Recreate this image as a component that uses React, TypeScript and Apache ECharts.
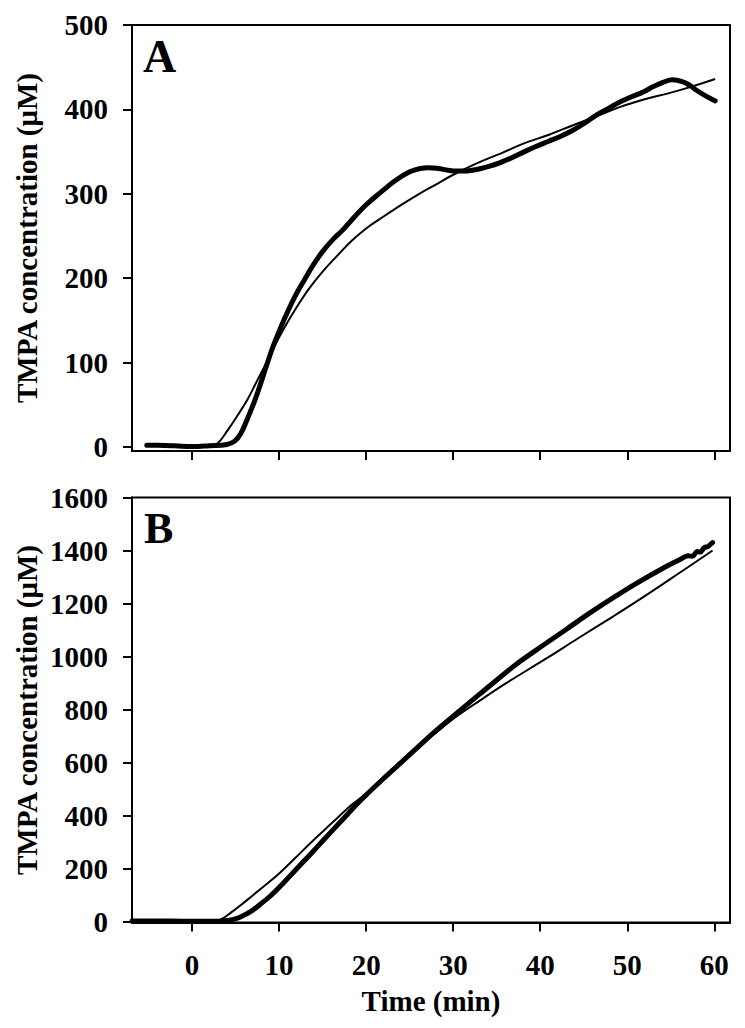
import React, { useEffect, useRef } from "react";
import * as echarts from "echarts";

// Panel A – measured data (thick) and fitted curve (thin)
const timeA_data = [-5.2, -4, -2, 0, 2, 4, 4.9, 5.6, 6.3, 7.2, 8, 8.7, 9.3, 10, 10.7, 11.8, 12.9, 14, 15.1, 16.2, 17.3, 18.6, 20, 21.7, 23.4, 25, 26.2, 27.2, 28.3, 29.4, 30.4, 31.3, 32.2, 33.2, 34.3, 35.4, 36.8, 38.2, 39.5, 40.9, 42.3, 43.7, 45, 46.4, 47.8, 49.2, 50.5, 51.9, 53, 54.1, 55.2, 56.3, 57.1, 57.9, 59, 60.1];
const concA_data = [2, 2, 1.5, 0.5, 1.5, 3, 7, 16, 32, 55, 79, 101, 119, 137, 154, 178, 198, 217, 233, 246, 257, 272, 287, 302, 316, 326, 330, 331, 330, 328, 327, 327, 328, 330, 333, 337, 343, 350, 356, 362, 368, 375, 383, 393, 401, 409, 415, 421, 427, 432, 435, 433, 429, 423, 416, 410];
const timeA_fit = [0, 2, 3, 4.1, 5.2, 6.3, 7.4, 8.5, 9.6, 10.7, 11.8, 13.4, 15.1, 16.8, 18.4, 20, 21.7, 23.9, 26.1, 28, 29.9, 32.7, 35.5, 38.2, 41, 43.7, 46.5, 49.2, 52, 54.7, 57.4, 60.1];
const concA_fit = [0, 0, 5, 20, 37, 55, 77, 99, 122, 143, 162, 187, 209, 228, 245, 259, 271, 286, 300, 311, 322, 336, 348, 360, 370, 381, 392, 403, 412, 419, 427, 436];

// Panel B – measured data (thick) and fitted curve (thin)
const timeB_data = [-6.9, -4, -1, 1, 2.5, 3.6, 4.5, 5.5, 6.9, 8, 9, 10.5, 12, 13.5, 15.1, 17, 18.9, 20, 22, 24, 26, 27.7, 30, 33.1, 35.5, 37.7, 40, 43.1, 45.5, 48.4, 51, 54.2, 56, 57, 57.5, 58, 58.4, 58.8, 59.3, 59.8];
const concB_data = [3, 3, 2, 2, 2, 3, 7, 17, 42, 70, 97, 146, 199, 251, 308, 375, 442, 478, 540, 600, 660, 711, 775, 860, 925, 982, 1035, 1105, 1160, 1222, 1275, 1335, 1365, 1380, 1378, 1396, 1394, 1410, 1416, 1430];
const timeB_fit = [2.4, 3.5, 4.5, 5.5, 7, 8.5, 10.1, 12, 13.7, 16, 18.2, 19.5, 22, 24, 26, 28, 30, 33.1, 36, 40.8, 44.4, 48.4, 52, 56.1, 59.8];
const concB_fit = [0, 12, 35, 60, 100, 140, 185, 245, 300, 370, 437, 470, 540, 600, 660, 713, 765, 835, 898, 995, 1070, 1152, 1228, 1318, 1400];

const xTicks = [0, 10, 20, 30, 40, 50, 60];
const yTicksA = [0, 100, 200, 300, 400, 500];
const yTicksB = [0, 200, 400, 600, 800, 1000, 1200, 1400, 1600];

const zip = (xs: number[], ys: number[]) => xs.map((x, i) => [x, ys[i]]);

const FONT = "'Liberation Serif', 'Times New Roman', serif";

export default function App() {
  const ref = useRef<HTMLDivElement>(null);
  useEffect(() => {
    if (!ref.current) return;
    const chart = echarts.init(ref.current, undefined, { renderer: "svg" });
    const axisLine = { show: true, onZero: false, lineStyle: { color: "#000", width: 2 } };
    const tick = { show: true, inside: false, length: 9, lineStyle: { color: "#000", width: 2 } };
    const label = { fontFamily: FONT, fontWeight: "bold" as const, fontSize: 29, color: "#000", formatter: (v: number) => String(v) };
    const xAxisBase = (gridIndex: number, showLabels: boolean) => ({
      type: "value" as const,
      gridIndex,
      min: -6.9,
      max: 61.8,
      axisLine,
      axisTick: { ...tick, customValues: xTicks },
      axisLabel: { ...label, show: showLabels, margin: 28, customValues: xTicks },
      splitLine: { show: false },
    });
    const yAxisBase = (gridIndex: number, min: number, max: number, ticks: number[]) => ({
      type: "value" as const,
      gridIndex,
      min,
      max,
      axisLine,
      axisTick: { ...tick, customValues: ticks },
      axisLabel: { ...label, margin: 24, customValues: ticks },
      splitLine: { show: false },
    });
    const thick = { color: "#000", width: 5, cap: "round" as const, join: "round" as const };
    const thin = { color: "#000", width: 2 };
    chart.setOption({
      animation: false,
      backgroundColor: "#fff",
      grid: [
        { left: 132, top: 25, width: 598, height: 426, show: true, borderColor: "#000", borderWidth: 2, backgroundColor: "transparent" },
        { left: 132, top: 497.5, width: 598, height: 425, show: true, borderColor: "#000", borderWidth: 2, backgroundColor: "transparent" },
      ],
      xAxis: [xAxisBase(0, false), xAxisBase(1, true)],
      yAxis: [yAxisBase(0, -4.7, 500, yTicksA), yAxisBase(1, -3, 1600, yTicksB)],
      series: [
        { type: "line", xAxisIndex: 0, yAxisIndex: 0, data: zip(timeA_data, concA_data), showSymbol: false, smooth: 0.4, lineStyle: thick },
        { type: "line", xAxisIndex: 0, yAxisIndex: 0, data: zip(timeA_fit, concA_fit), showSymbol: false, smooth: 0.4, lineStyle: thin },
        { type: "line", xAxisIndex: 1, yAxisIndex: 1, data: zip(timeB_data, concB_data), showSymbol: false, smooth: 0.3, lineStyle: thick },
        { type: "line", xAxisIndex: 1, yAxisIndex: 1, data: zip(timeB_fit, concB_fit), showSymbol: false, smooth: 0.4, lineStyle: thin },
      ],
      graphic: [
        { type: "text", left: 143, top: 33, style: { text: "A", fontFamily: FONT, fontWeight: "bold", fontSize: 46, fill: "#000" } },
        { type: "text", left: 144, top: 506, style: { text: "B", fontFamily: FONT, fontWeight: "bold", fontSize: 44, fill: "#000" } },
        { type: "text", x: 27, y: 238, rotation: Math.PI / 2, style: { text: "TMPA concentration (μM)", fontFamily: FONT, fontWeight: "bold", fontSize: 29, fill: "#000", textAlign: "center", textVerticalAlign: "middle" } },
        { type: "text", x: 27, y: 710, rotation: Math.PI / 2, style: { text: "TMPA concentration (μM)", fontFamily: FONT, fontWeight: "bold", fontSize: 29, fill: "#000", textAlign: "center", textVerticalAlign: "middle" } },
        { type: "text", x: 431, y: 1001, style: { text: "Time (min)", fontFamily: FONT, fontWeight: "bold", fontSize: 29, fill: "#000", textAlign: "center", textVerticalAlign: "middle" } },
      ],
    });
    return () => chart.dispose();
  }, []);
  return <div ref={ref} style={{ position: "absolute", left: 0, top: 0, width: 745, height: 1028 }} />;
}
